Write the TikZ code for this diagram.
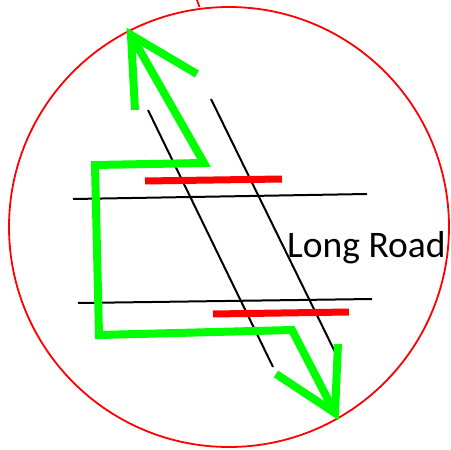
\documentclass[tikz,border=0pt]{standalone}
\usepackage{fontspec}
\setmainfont{Carlito}
\begin{document}
\begin{tikzpicture}[x=1pt,y=-1pt,
  road/.style={black,line width=2pt},
  bar/.style={red,line width=7pt},
  route/.style={green,line width=8pt,line join=miter},
  ring/.style={red,line width=1.8pt}]
\useasboundingbox (0,0) rectangle (451,450);
% circle
\coordinate (c) at (229,227);
\draw[ring] (c) circle[radius=220];
\coordinate (t1) at (197,0);
\coordinate (t2) at (199.5,7);
\draw[ring] (t1) -- (t2);
% roads
\coordinate (h1a) at (73,199); \coordinate (h1b) at (367,194);
\coordinate (h2a) at (78,303); \coordinate (h2b) at (372,299);
\coordinate (d1a) at (148,110); \coordinate (d1b) at (273,367);
\coordinate (d2a) at (211,99); \coordinate (d2b) at (335,352);
\draw[road] (h1a) -- (h1b);
\draw[road] (h2a) -- (h2b);
\draw[road] (d1a) -- (d1b);
\draw[road] (d2a) -- (d2b);
% red bars
\coordinate (r1a) at (145,181); \coordinate (r1b) at (282,179);
\coordinate (r2a) at (213,314); \coordinate (r2b) at (349,312);
\draw[bar] (r1a) -- (r1b);
\draw[bar] (r2a) -- (r2b);
% green route
\coordinate (tipA) at (131,35);
\coordinate (p1) at (204,163);
\coordinate (p2) at (95,165);
\coordinate (p3) at (99,335);
\coordinate (p4) at (292,330);
\coordinate (tipB) at (335,413);
\coordinate (bA1) at (135,110);
\coordinate (bA2) at (197,74);
\coordinate (bB1) at (338,344);
\coordinate (bB2) at (276,374);
\draw[route] (tipA) -- (p1) -- (p2) -- (p3) -- (p4) -- (tipB);
\draw[route] (bA1) -- (tipA) -- (bA2);
\draw[route] (bB1) -- (tipB) -- (bB2);
% label
\node[anchor=base west,inner sep=0pt,font=\fontsize{37.5}{42}\selectfont] (lbl) at (287,257) {Long Road};
\end{tikzpicture}
\end{document}
